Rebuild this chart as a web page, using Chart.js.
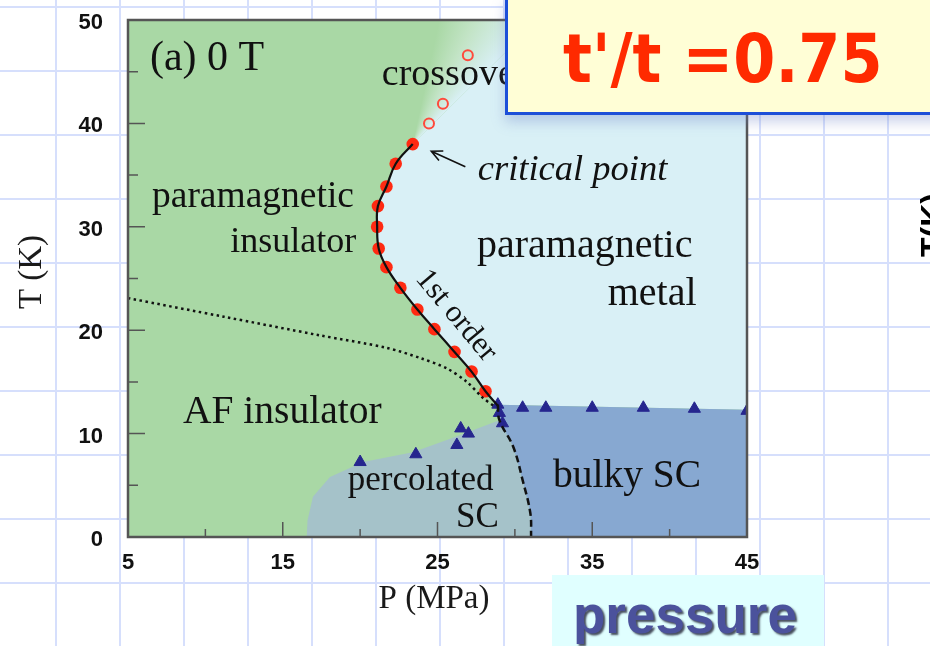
<!DOCTYPE html>
<html>
<head>
<meta charset="utf-8">
<script src="https://cdn.jsdelivr.net/npm/chart.js@4.4.1/dist/chart.umd.min.js"></script>
<style>
  html, body { margin: 0; padding: 0; }
  body {
    width: 930px; height: 646px; overflow: hidden; position: relative;
    background-color: #ffffff;
    background-image:
      linear-gradient(to right, #d6dffc 2px, transparent 2px),
      linear-gradient(to bottom, #d6dffc 2px, transparent 2px);
    background-size: 64px 64px;
    background-position: 55px 6px;
  }
  #wrap { position: absolute; left: 0; top: 0; width: 930px; height: 646px; }
  #ratio {
    position: absolute; left: 505px; top: -3px; width: 440px; height: 118px;
    box-sizing: border-box; border: 3px solid #1d4fd8; background: #fffed6;
    box-shadow: 0 7px 12px rgba(110, 130, 200, 0.35);
  }
  #ratio span {
    position: absolute; left: 55px; top: 25px; white-space: nowrap;
    font: bold 68px/1 "DejaVu Sans", sans-serif; color: #ff2a00;
    transform: scaleX(0.89); transform-origin: left top;
  }
  #press {
    position: absolute; left: 552px; top: 575px; width: 272px; height: 80px;
    background: #e0ffff;
  }
  #press span {
    position: absolute; left: 21px; top: 13px; white-space: nowrap;
    font: bold 53px/1 "Liberation Sans", Arial, sans-serif; color: #4b529c;
    text-shadow: 2px 2px 2px rgba(20, 20, 40, 0.75);
  }
  #side {
    position: absolute; left: 916px; top: 257px; white-space: nowrap;
    font: bold 32px/1 "Liberation Sans", Arial, sans-serif; color: #000;
    transform: rotate(-90deg); transform-origin: left top;
  }
</style>
</head>
<body>
<div id="wrap"><canvas id="phase"></canvas></div>
<div id="ratio"><span>t'/t =0.75</span></div>
<div id="press"><span>pressure</span></div>
<div id="side">T(K)</div>
<script>
// Axis ticks (labelled values); minor ticks fall halfway between them
const xTickLabels = [5, 15, 25, 35, 45];
const yTickLabels = [0, 10, 20, 30, 40, 50];

// First-order transition: red filled circles, P (MPa) and T (K)
const firstOrderP = [23.4, 22.3, 21.7, 21.15, 21.1, 21.2, 21.7, 22.6, 23.7, 24.8, 26.1, 27.2, 28.1];
const firstOrderT = [38.0, 36.1, 33.9, 32.0, 30.0, 27.9, 26.1, 24.1, 22.0, 20.1, 17.9, 16.0, 14.1];
// where the first-order line runs into the superconducting boundary
const firstOrderEndP = [28.9];
const firstOrderEndT = [12.7];

// Crossover above the critical point: open red circles
const crossoverP = [24.45, 25.35, 26.96];
const crossoverT = [40.0, 41.9, 46.6];

// Superconducting onset: blue triangles
const scP = [20.0, 23.6, 26.25, 26.5, 27.0, 28.9, 29.0, 29.2, 30.5, 32.0, 35.0, 38.3, 41.6, 45.0];
const scT = [7.25, 8.0, 8.9, 10.5, 10.0, 12.8, 12.0, 11.0, 12.5, 12.5, 12.5, 12.5, 12.4, 12.2];

// Antiferromagnetic boundary (dotted)
const afLineP = [5.0, 11.2, 17.4, 21.7, 23.9, 25.6, 26.9, 27.9, 28.7];
const afLineT = [23.1, 21.3, 19.5, 18.3, 17.3, 16.3, 15.0, 13.5, 12.6];

// Bulk superconductivity boundary (dashed)
const bulkLineP = [28.9, 29.0, 29.9, 30.5, 31.0, 31.05];
const bulkLineT = [12.8, 11.3, 8.7, 5.5, 2.3, 0.0];

// Upper edge of the bulk SC region
const bulkTopP = [28.9, 45.0];
const bulkTopT = [12.8, 12.3];

// Edge of the percolated SC region
const percEdgeP = [16.55, 16.6, 16.95, 18.05, 20.2, 23.4, 26.0, 29.0];
const percEdgeT = [0.0, 1.6, 3.9, 5.8, 7.25, 8.2, 9.6, 11.3];

// Crossover fan above the critical point: insulating side, metallic side (at T = 50 K)
const crossoverFanP = [25.1, 31.5];
const crossoverFanT = [50, 50];

const colors = {
  insulator: '#a9d8a5',
  metal: '#d9f0f6',
  bulkSC: '#87a8d1',
  percSC: '#a5c2c9',
  red: '#ff2a12',
  redOpen: '#ff4a3c',
  blue: '#26268e',
  ink: '#111111',
  frame: '#555555'
};

const pts = (P, T) => P.map((p, i) => ({ x: p, y: T[i] }));

const regionsPlugin = {
  id: 'regions',
  beforeDatasetsDraw(chart) {
    const { ctx, chartArea: a, scales: { x, y } } = chart;
    const px = v => x.getPixelForValue(v);
    const py = v => y.getPixelForValue(v);
    const poly = (list, fill) => {
      ctx.beginPath();
      list.forEach((q, i) => i ? ctx.lineTo(px(q[0]), py(q[1])) : ctx.moveTo(px(q[0]), py(q[1])));
      ctx.closePath();
      ctx.fillStyle = fill;
      ctx.fill();
    };
    ctx.save();
    ctx.beginPath();
    ctx.rect(a.left, a.top, a.width, a.height);
    ctx.clip();

    ctx.fillStyle = colors.insulator;
    ctx.fillRect(a.left, a.top, a.width, a.height);

    const critP = firstOrderP[0], critT = firstOrderT[0];
    const xMax = x.max, yMax = y.max;

    // crossover fan: green on the insulating side fading to the metal colour
    const cx = px(critP), cy = py(critT);
    const angA = Math.atan2(py(crossoverFanT[0]) - cy, px(crossoverFanP[0]) - cx);
    const angB = Math.atan2(py(crossoverFanT[1]) - cy, px(crossoverFanP[1]) - cx);
    const f = (angB - angA) / (2 * Math.PI);
    const g = ctx.createConicGradient(angA, cx, cy);
    g.addColorStop(0, colors.insulator);
    g.addColorStop(f * 0.45, '#c3e4c6');
    g.addColorStop(f, colors.metal);
    g.addColorStop(Math.min(1, f + 0.01), colors.metal);
    g.addColorStop(1, colors.insulator);
    poly([[critP, critT], [crossoverFanP[0], crossoverFanT[0]], [crossoverFanP[1], crossoverFanT[1]]], g);

    // paramagnetic metal
    const metal = [[critP, critT], [crossoverFanP[1], crossoverFanT[1]], [xMax, yMax],
      [bulkTopP[1], bulkTopT[1]], [bulkTopP[0], bulkTopT[0]], [firstOrderEndP[0], firstOrderEndT[0]]];
    for (let i = firstOrderP.length - 1; i >= 0; i--) metal.push([firstOrderP[i], firstOrderT[i]]);
    poly(metal, colors.metal);

    // percolated superconductor
    const perc = percEdgeP.map((p, i) => [p, percEdgeT[i]]);
    bulkLineP.forEach((p, i) => { if (bulkLineT[i] < percEdgeT[percEdgeT.length - 1]) perc.push([p, bulkLineT[i]]); });
    poly(perc, colors.percSC);

    // bulk superconductor
    const bulk = bulkLineP.map((p, i) => [p, bulkLineT[i]]);
    bulk.push([xMax, 0], [bulkTopP[1], bulkTopT[1]], [bulkTopP[0], bulkTopT[0]]);
    poly(bulk, colors.bulkSC);

    ctx.restore();
  }
};

// Text placed inside the plot, positioned in data units (P, T)
const annotations = [
  { text: '(a) 0 T', p: 6.42, t: 45.2, font: '42px "Liberation Serif"' },
  { text: 'crossover', p: 21.4, t: 43.7, font: '38px "Liberation Serif"' },
  { text: 'critical point', p: 27.6, t: 34.5, font: 'italic 36.5px "Liberation Serif"' },
  { text: 'paramagnetic', p: 6.55, t: 31.9, font: '37.5px "Liberation Serif"' },
  { text: 'insulator', p: 11.6, t: 27.6, font: '36px "Liberation Serif"' },
  { text: 'paramagnetic', p: 27.55, t: 27.1, font: '40px "Liberation Serif"' },
  { text: 'metal', p: 36.0, t: 22.4, font: '40px "Liberation Serif"' },
  { text: 'AF insulator', p: 8.55, t: 11.0, font: '39.5px "Liberation Serif"' },
  { text: 'percolated', p: 19.2, t: 4.55, font: '35px "Liberation Serif"' },
  { text: 'SC', p: 26.2, t: 0.97, font: '35px "Liberation Serif"' },
  { text: 'bulky SC', p: 32.46, t: 4.84, font: '39.5px "Liberation Serif"' }
];

const overlayPlugin = {
  id: 'overlay',
  afterDatasetsDraw(chart) {
    const { ctx, chartArea: a, scales: { x, y } } = chart;
    const px = v => x.getPixelForValue(v);
    const py = v => y.getPixelForValue(v);
    ctx.save();
    ctx.fillStyle = colors.ink;
    ctx.textAlign = 'left';
    ctx.textBaseline = 'alphabetic';
    annotations.forEach(l => { ctx.font = l.font; ctx.fillText(l.text, px(l.p), py(l.t)); });

    // "1st order" along the transition line
    ctx.save();
    ctx.translate(px(26.2), py(21.4));
    ctx.rotate(50 * Math.PI / 180);
    ctx.font = '31px "Liberation Serif"';
    ctx.textAlign = 'center';
    ctx.textBaseline = 'middle';
    ctx.fillText('1st order', 0, 0);
    ctx.restore();

    // arrow pointing at the critical point
    const tx = px(26.8), ty = py(35.8), hx = px(24.6), hy = py(37.3);
    const ang = Math.atan2(hy - ty, hx - tx);
    ctx.strokeStyle = colors.ink;
    ctx.lineWidth = 1.6;
    ctx.beginPath();
    ctx.moveTo(tx, ty); ctx.lineTo(hx, hy);
    ctx.moveTo(hx - 12 * Math.cos(ang - 0.45), hy - 12 * Math.sin(ang - 0.45));
    ctx.lineTo(hx, hy);
    ctx.lineTo(hx - 12 * Math.cos(ang + 0.45), hy - 12 * Math.sin(ang + 0.45));
    ctx.stroke();

    // frame
    ctx.strokeStyle = colors.frame;
    ctx.lineWidth = 2.5;
    ctx.strokeRect(a.left, a.top, a.width, a.height);

    // inward tick marks
    ctx.lineWidth = 1.5;
    ctx.beginPath();
    x.ticks.forEach(tk => {
      const len = xTickLabels.includes(tk.value) ? 15 : 8;
      const X = px(tk.value);
      ctx.moveTo(X, a.bottom); ctx.lineTo(X, a.bottom - len);
    });
    y.ticks.forEach(tk => {
      const len = yTickLabels.includes(tk.value) ? 17 : 10;
      const Y = py(tk.value);
      ctx.moveTo(a.left, Y); ctx.lineTo(a.left + len, Y);
    });
    ctx.stroke();

    // axis titles
    ctx.fillStyle = '#1a1a1a';
    ctx.font = '33px "Liberation Serif"';
    ctx.textAlign = 'center';
    ctx.textBaseline = 'alphabetic';
    ctx.fillText('P (MPa)', a.left + 306, a.bottom + 71);
    ctx.save();
    ctx.translate(a.left - 87, a.top + 252);
    ctx.rotate(-Math.PI / 2);
    ctx.fillText('T (K)', 0, 0);
    ctx.restore();
    ctx.restore();
  }
};

const tickFont = { family: '"Liberation Sans", Arial, sans-serif', size: 22, weight: 'bold' };

new Chart(document.getElementById('phase'), {
  type: 'scatter',
  data: {
    datasets: [
      { label: 'AF boundary', data: pts(afLineP, afLineT), showLine: true, borderColor: colors.ink,
        borderWidth: 2.5, borderDash: [2.5, 3.5], tension: 0.3, pointRadius: 0 },
      { label: 'bulk SC boundary', data: pts(bulkLineP, bulkLineT), showLine: true, borderColor: colors.ink,
        borderWidth: 2.5, borderDash: [7, 4], tension: 0.4, pointRadius: 0 },
      { label: 'first-order line', data: pts(firstOrderP.concat(firstOrderEndP), firstOrderT.concat(firstOrderEndT)),
        showLine: true, borderColor: colors.ink, borderWidth: 2.2, tension: 0.4, pointRadius: 0 },
      { label: 'Tc', data: pts(scP, scT), pointStyle: 'triangle', pointRadius: 7,
        backgroundColor: colors.blue, borderColor: colors.blue, borderWidth: 1 },
      { label: 'first order', data: pts(firstOrderP, firstOrderT), pointRadius: 6.3,
        backgroundColor: colors.red, borderColor: colors.red, borderWidth: 0 },
      { label: 'crossover', data: pts(crossoverP, crossoverT), pointRadius: 5,
        backgroundColor: 'rgba(0,0,0,0)', borderColor: colors.redOpen, borderWidth: 2 }
    ]
  },
  options: {
    responsive: true,
    maintainAspectRatio: false,
    animation: false,
    events: [],
    layout: { padding: { left: 0, top: 20, right: 183, bottom: 0 } },
    plugins: { legend: { display: false }, tooltip: { enabled: false } },
    scales: {
      x: {
        type: 'linear', min: 5, max: 45,
        grid: { display: false, drawTicks: false },
        border: { display: false },
        ticks: { stepSize: 5, padding: 13, color: colors.ink, font: tickFont, maxRotation: 0,
          callback: v => xTickLabels.includes(v) ? String(v) : '' },
        afterFit: s => { s.height = 109; s.paddingLeft = 0; s.paddingRight = 0; }
      },
      y: {
        type: 'linear', min: 0, max: 50,
        grid: { display: false, drawTicks: false },
        border: { display: false },
        ticks: { stepSize: 5, padding: 25, labelOffset: 3, color: colors.ink, font: tickFont,
          callback: v => yTickLabels.includes(v) ? String(v) : '' },
        afterFit: s => { s.width = 128; s.paddingTop = 0; s.paddingBottom = 0; }
      }
    }
  },
  plugins: [regionsPlugin, overlayPlugin]
});
</script>
</body>
</html>
